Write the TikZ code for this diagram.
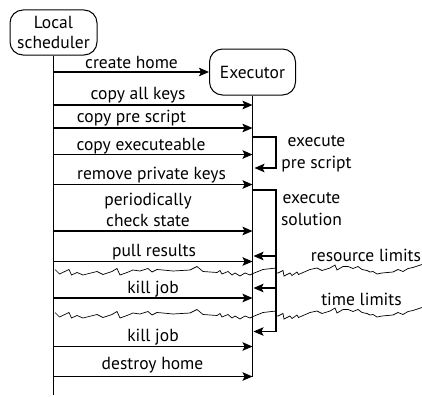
\documentclass[tikz,border=0pt]{standalone}
\usepackage{fontspec}
\setmainfont{PT Sans}
\usetikzlibrary{arrows.meta}
\begin{document}
\begin{tikzpicture}[x=1pt,y=-1pt,
  every node/.style={font=\fontsize{17.5}{21.5}\selectfont, inner sep=0pt},
  actor/.style={draw, line width=1pt, rounded corners=13pt, minimum width=87pt,
    minimum height=45pt, align=center, font=\fontsize{17.5}{20}\selectfont},
  life/.style={line width=1.2pt},
  msg/.style={line width=1.1pt, -{Stealth[length=10pt,width=8.5pt,inset=2pt]}},
  lbl/.style={anchor=base, align=center},
  cut/.style={line width=0.7pt, line join=miter}]
\useasboundingbox (0,0) rectangle (422,396);

% participants
\node[actor] (sched) at (53.5,32.5) {Local\\scheduler};
\node[actor, minimum width=86pt, minimum height=46pt] (exec) at (252.5,72) {Executor};

% lifelines
\draw[life] (sched.south) -- (sched.south |- 0,395);
\draw[life] (exec.south) -- (exec.south |- 0,377);

% x position of the executor's self-calls
\coordinate (br) at (276,0);

% messages from the scheduler (multi-line labels are placed by their last baseline)
\draw[msg] (sched.south |- exec.west) -- (exec.west);
\node[lbl] (m1) at (131.5,68) {create home};

\draw[msg] (sched.south |- 0,105) -- (exec.south |- 0,105);
\node[lbl] (m2) at (138,99) {copy all keys};

\draw[msg] (sched.south |- 0,128) -- (exec.south |- 0,128);
\node[lbl] (m3) at (131.5,122) {copy pre script};

\draw[msg] (sched.south |- 0,154.5) -- (exec.south |- 0,154.5);
\node[lbl] (m4) at (141,150) {copy executeable};

\draw[msg] (sched.south |- 0,184.5) -- (exec.south |- 0,184.5);
\node[lbl] (m5) at (151.5,179.5) {remove private keys};

\draw[msg] (sched.south |- 0,231) -- (exec.south |- 0,231);
\node[lbl] (m6) at (148,226.5) {periodically\\check state};

\draw[msg] (sched.south |- 0,261.5) -- (exec.south |- 0,261.5);
\node[lbl] (m7) at (154,256) {pull results};

\draw[msg] (sched.south |- 0,298) -- (exec.south |- 0,298);
\node[lbl] (m8) at (153,293) {kill job};

\draw[msg] (sched.south |- 0,346.5) -- (exec.south |- 0,346.5);
\node[lbl] (m9) at (153,341.5) {kill job};

\draw[msg] (sched.south |- 0,376.5) -- (exec.south |- 0,376.5);
\node[lbl] (m10) at (152.5,369) {destroy home};

% executor self-calls
\draw[msg] (exec.south |- 0,137) -| (br |- 0,168) -- ([xshift=2pt]exec.south |- 0,168);
\node[lbl] (s1) at (316.5,168) {execute\\pre script};

\draw[msg] (exec.south |- 0,190) -| (br |- 0,331.5) -- ([xshift=1pt]exec.south |- 0,331.5);
\draw[msg] (br |- 0,256) -- ([xshift=1pt]exec.south |- 0,256);
\draw[msg] (br |- 0,288) -- ([xshift=1pt]exec.south |- 0,288);
\node[lbl] (s2) at (311.5,225) {execute\\solution};

% interruption lines (same jagged break drawn twice)
\foreach \dy in {0,43} {
  \draw[cut, yshift=-\dy pt]
    (55,269.5) -- (59.5,274) -- (69,269.5) -- (71.5,275) -- (77,272.5)
    -- (83,275) -- (93,272.5) -- (97,271.5) -- (103,274.5) -- (112,271.5)
    -- (117,268.5) -- (120,275) -- (127,272.5) -- (133,270) -- (140,271)
    -- (148,268.5) -- (152,272) -- (157,269.5) -- (163,270) -- (173,271)
    -- (190,270) -- (197,266.5) -- (203,271.5) -- (217,272.5) -- (220,270.5)
    -- (222,274) -- (228,271.5) -- (232,275) -- (235,273) -- (240,276)
    -- (245,273) -- (250,275) -- (253,273.5) -- (263,269.5) -- (276,268)
    -- (276,273) -- (278,273) -- (283,270.5) -- (284,276) -- (290,273)
    -- (292,275.5) -- (297,272) -- (298.5,274.5) -- (310,269.5) -- (317,268)
    -- (322,270.5) -- (330,268) -- (335,265) -- (337,270) -- (343,266.5)
    -- (348,266.5) -- (353,268.5) -- (358,266.5) -- (362,269.5) -- (367,270.5)
    -- (370,272) -- (373,271.5) -- (377,274) -- (382,273) -- (393,272)
    -- (398,269.5) -- (403,271.5) -- (408,268.5) -- (413,267.5) -- (422,264.5);
}
\node[lbl] (c1) at (366,261.5) {resource limits};
\node[lbl] (c2) at (361.5,305) {time limits};
\end{tikzpicture}
\end{document}
